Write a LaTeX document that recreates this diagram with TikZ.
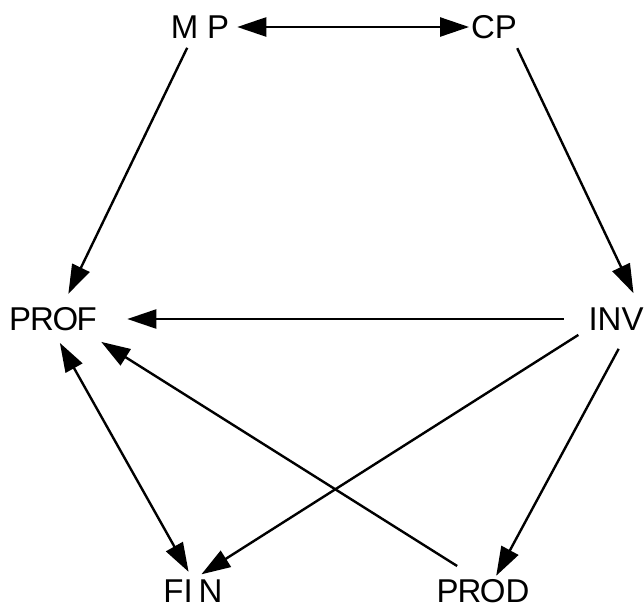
\documentclass[tikz,border=0pt]{standalone}
\usepackage{fontspec}
\setmainfont{Liberation Sans}
\usetikzlibrary{arrows.meta}

\begin{document}
\begin{tikzpicture}[x=1pt,y=-1pt,
                var/.style={inner sep=0pt,outer sep=0pt,font=\fontsize{33}{38}\selectfont},
                big/.tip={Triangle[length=29pt,width=19pt]},
                link/.style={line width=2.4pt,-big},
                both/.style={line width=2.4pt,big-big}
            ]
                \useasboundingbox (0,0) rectangle (644,611);
                \node[var] (mp) at (200,27) {M\kern9pt P};
                \node[var] (cp) at (494,27) {CP};
                \node[var] (prof) at (53,319) {P\kern-1pt R\kern-1.5pt O\kern-1.5pt F};
                \node[var] (inv) at (616,319) {INV};
                \node[var] (fin) at (193,591) {FI\kern6pt N};
                \node[var] (prod) at (483,591) {P\kern-1pt R\kern-1.5pt OD};
                \draw[both,shorten <=8pt,shorten >=2pt] (mp.east) -- (cp.west);
                \draw[link,shorten <=10.5pt,shorten >=15pt] (mp.-126) -- (prof.53);
                \draw[link,shorten <=10.5pt,shorten >=16pt] (cp.-32) -- (inv.25);
                \draw[link,shorten <=25pt,shorten >=30.5pt] (inv.west) -- (prof.east);
                \draw[both,shorten <=14pt,shorten >=9pt] (prof.south) -- (fin.north);
                \draw[link,shorten <=25pt,shorten >=21pt] (prod.112) -- (prof.-21);
                \draw[link,shorten <=12pt,shorten >=10pt] (inv.199) -- (fin.north);
                \draw[link,shorten <=21pt,shorten >=4pt] (inv.-42) -- (prod.46);

            \end{tikzpicture}
\end{document}
